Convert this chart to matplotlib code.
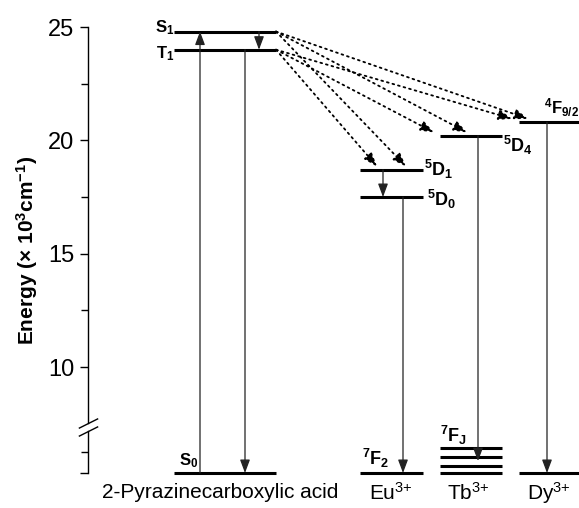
import numpy as np
import matplotlib
matplotlib.use('Agg')
from matplotlib import pyplot as plt

plt.rcParams['font.family'] = ['Liberation Sans', 'DejaVu Sans']
plt.rcParams['mathtext.fontset'] = 'custom'
plt.rcParams['mathtext.rm'] = 'Liberation Sans'
plt.rcParams['mathtext.bf'] = 'Liberation Sans:bold'
plt.rcParams['mathtext.it'] = 'Liberation Sans:italic'

# energies in 10^3 cm^-1
ligand_states = ['S_0', 'T_1', 'S_1']
ligand_energy = [0.0, 24.0, 24.8]
eu_states = ['^7F_2', '^5D_0', '^5D_1']
eu_energy = [0.0, 17.5, 18.7]
tb_fj_energy = [0.0, 0.85, 1.9, 2.95]
tb_d4_energy = 20.2
dy_states = ['', '^4F_{9/2}']
dy_energy = [0.0, 20.8]
group_labels = ['2-Pyrazinecarboxylic acid', r'Eu$^{3{+}}$',
                r'Tb$^{3{+}}$', r'Dy$^{3{+}}$']
major_ticks = [0, 10, 15, 20, 25]
major_labels = ['', '10', '15', '20', '25']
minor_ticks = [2.5, 12.5, 17.5, 22.5]

# broken axis: lower part compressed
K = 0.37
D0 = 5.324
EB = D0 / (1 - K)


def fwd(e):
    e = np.asarray(e, float)
    return np.where(e < EB, D0 + K * e, e)


def inv(d):
    d = np.asarray(d, float)
    return np.where(d < EB, (d - D0) / K, d)


fig = plt.figure(figsize=(5.79, 5.08), dpi=100)
ax = fig.add_axes([88 / 579, 28 / 508, 491 / 579, 460 / 508])
ax.set_yscale('function', functions=(fwd, inv))
ax.set_xlim(88, 579)
ax.set_ylim(-0.835, 25.31)

for s in ['top', 'right', 'bottom', 'left']:
    ax.spines[s].set_visible(False)
ax.set_xticks([])
ax.set_yticks(major_ticks)
ax.set_yticklabels(major_labels, fontsize=17)
ax.set_yticks(minor_ticks, minor=True)
ax.tick_params(axis='y', which='major', length=6, width=1, pad=4)
ax.tick_params(axis='y', which='minor', length=5, width=1)

# axis line with break
brk_lo, brk_hi = 5.0, 6.0
ax.plot([88, 88], [brk_hi, 25], color='k', lw=1, clip_on=False)
ax.plot([88, 88], [0, brk_lo], color='k', lw=1, clip_on=False)
ax.plot([88, 88], [brk_lo, brk_hi], ls='none', marker=[(-1, -0.5), (1, 0.5)],
        markersize=14, mec='k', mew=1, clip_on=False)

ax.set_ylabel(r'Energy (× 10$^{\mathbf{3}}$cm$^{\mathbf{-1}}$)', fontsize=15,
              fontweight='bold')
ax.yaxis.set_label_coords(-0.098, 0.5)

LW = 2.2
lig_x = (174, 276)
eu_x = (360, 423)
tb_x = (440, 502)
dy_x = (519, 600)


def level(xr, e):
    ax.plot(xr, [e, e], color='k', lw=LW, solid_capstyle='butt')


def arrow(x, e0, e1, dotted=False, x0=None):
    props = dict(arrowstyle='-|>,head_length=0.8,head_width=0.3', color='#222222',
                 lw=0.9, shrinkA=0, shrinkB=0, mutation_scale=10)
    if dotted:
        props.update(color='k', lw=1.3, linestyle=(0, (1, 2.2)),
                     arrowstyle='-|>,head_length=0.8,head_width=0.3')
    ax.annotate('', xy=(x, e1), xytext=(x if x0 is None else x0, e0),
                arrowprops=props)


def label(x, e, txt, dx, dy, ha, va, size=12):
    ax.annotate(r'$\mathbf{' + txt + '}$', xy=(x, e), xytext=(dx, dy),
                textcoords='offset points', ha=ha, va=va, fontsize=size,
                annotation_clip=False)


# ligand
s0, t1, s1 = ligand_energy
for e in ligand_energy:
    level(lig_x, e)
arrow(200, s0, s1)
arrow(259, s1, t1)
arrow(245, t1, s0)
label(lig_x[0], s1, ligand_states[2], 0, 3, 'right', 'center')
label(lig_x[0], t1, ligand_states[1], 0, -3, 'right', 'center')
label(198, s0, ligand_states[0], 0, 2, 'right', 'bottom')

# Eu
for e in eu_energy:
    level(eu_x, e)
arrow(383, eu_energy[2], eu_energy[1])
arrow(403, eu_energy[1], eu_energy[0])
label(eu_x[1], eu_energy[2], eu_states[2], 1, 0, 'left', 'center', 13)
label(eu_x[1], eu_energy[1], eu_states[1], 3, -2, 'left', 'center', 13)
label(362, eu_energy[0], eu_states[0], 0, 2, 'left', 'bottom', 13)

# Tb
for e in tb_fj_energy:
    level(tb_x, e)
level(tb_x, tb_d4_energy)
arrow(478, tb_d4_energy, np.mean(tb_fj_energy))
label(tb_x[1], tb_d4_energy, '^5D_4', 1, -7, 'left', 'center', 13)
label(tb_x[0], tb_fj_energy[-1], '^7F_J', 0, 1, 'left', 'bottom', 13)

# Dy
for e in dy_energy:
    level(dy_x, e)
arrow(547, dy_energy[1], dy_energy[0])
label(544, dy_energy[1], dy_states[1], 0, 2, 'left', 'bottom', 12)

# energy transfer from S1 / T1
targets = [(406, eu_energy[2]), (467, tb_d4_energy), (528, dy_energy[1])]
for x, e in targets:
    arrow(x, s1, e + 0.15, dotted=True, x0=lig_x[1])
targets = [(377, eu_energy[2]), (434, tb_d4_energy), (512, dy_energy[1])]
for x, e in targets:
    arrow(x, t1, e + 0.15, dotted=True, x0=lig_x[1])

# group names
xt = ax.get_xaxis_transform()
for x, txt in zip([220, 391, 468, 549], group_labels):
    ax.text(x, -0.028, txt, transform=xt, ha='center', va='center', fontsize=15)

fig.savefig('out.png', dpi=100)
